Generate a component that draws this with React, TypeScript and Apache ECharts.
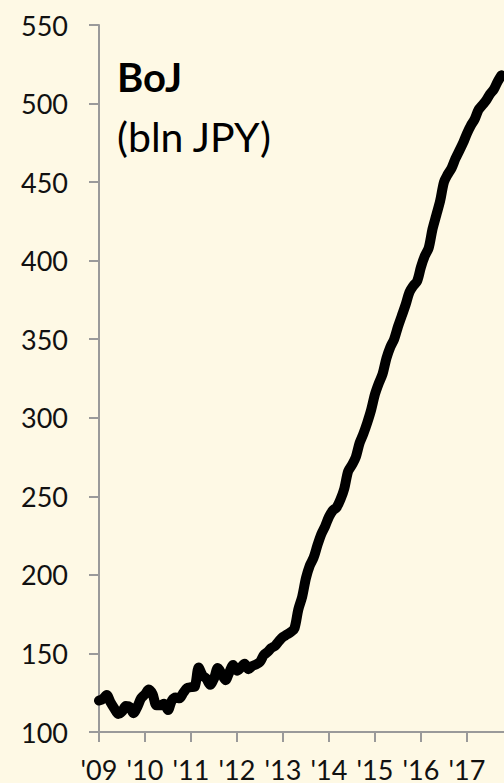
import React, { useEffect, useRef } from "react";
import * as echarts from "echarts";

// Monthly BoJ balance sheet, bln JPY, from Jan 2009
const startYear = 2009;
const yearTicks = [0, 12, 24, 36, 48, 60, 72, 84, 96];
const yTicks = [100, 150, 200, 250, 300, 350, 400, 450, 500, 550];
const bojValues = [
  120, 121, 123.5, 119, 115, 111.5, 113, 116.5, 116, 112, 116, 121.5,
  124, 127, 124, 117, 117, 118, 114, 120, 122, 121.5, 125, 128,
  128.5, 129, 141, 136, 134, 130, 134, 140.7, 137, 133, 138, 142.7,
  139, 141, 143.5, 140, 142, 143, 144.6, 149, 151, 153.5, 155, 158,
  160.5, 162, 163.5, 166, 178, 186, 198, 206, 211, 219, 226, 231,
  237, 241, 243, 248, 255, 266, 270, 275, 284, 290, 297, 305,
  315, 322, 328, 338, 345, 350, 358, 365, 372, 380, 384, 387,
  396, 403, 408, 420, 429, 438, 450, 455, 459, 465, 470, 475,
  481, 486, 490, 496, 499, 502, 506, 509, 514, 518,
];

const FONT = "Lato";

export default function App() {
  const ref = useRef<HTMLDivElement>(null);
  useEffect(() => {
    document.body.style.margin = "0";
    if (!ref.current) return;
    const chart = echarts.init(ref.current, undefined, { renderer: "svg" });
    const data = bojValues.map((v, i) => [i, v]);
    chart.setOption({
      animation: false,
      backgroundColor: "#FEF9E5",
      textStyle: { fontFamily: FONT },
      grid: { left: 99, right: 0, top: 25, bottom: 51, containLabel: false },
      xAxis: {
        type: "value",
        min: 0,
        max: 105.66,
        interval: 12,
        splitLine: { show: false },
        axisLine: { show: true, lineStyle: { color: "#9A9A9A", width: 2 } },
        axisTick: {
          show: true,
          length: 10,
          customValues: yearTicks,
          lineStyle: { color: "#9A9A9A", width: 2 },
        },
        axisLabel: {
          customValues: yearTicks,
          margin: 24,
          fontSize: 27,
          color: "#111",
          fontFamily: FONT,
          formatter: (v: number) =>
            "'" + String((startYear + Math.round(v / 12)) % 100).padStart(2, "0"),
        },
      },
      yAxis: {
        type: "value",
        min: 100,
        max: 550,
        interval: 50,
        splitLine: { show: false },
        axisLine: { show: true, lineStyle: { color: "#9A9A9A", width: 2 } },
        axisTick: { show: true, length: 10, lineStyle: { color: "#9A9A9A", width: 2 } },
        axisLabel: {
          customValues: yTicks,
          margin: 31,
          fontSize: 27,
          color: "#111",
          fontFamily: FONT,
        },
      },
      graphic: [
        {
          type: "text",
          left: 117,
          top: 57,
          style: {
            text: "BoJ",
            fontSize: 40,
            fontWeight: "bold",
            fontFamily: FONT,
            fill: "#000",
          },
        },
        {
          type: "text",
          left: 117,
          top: 116,
          style: {
            text: "(bln JPY)",
            fontSize: 41,
            fontFamily: FONT,
            fill: "#000",
          },
        },
      ],
      series: [
        {
          type: "line",
          data,
          showSymbol: false,
          smooth: 0.3,
          clip: false,
          lineStyle: { color: "#000", width: 10, cap: "round", join: "round" },
        },
      ],
    });
    return () => chart.dispose();
  }, []);
  return <div ref={ref} style={{ width: 504, height: 783 }} />;
}
